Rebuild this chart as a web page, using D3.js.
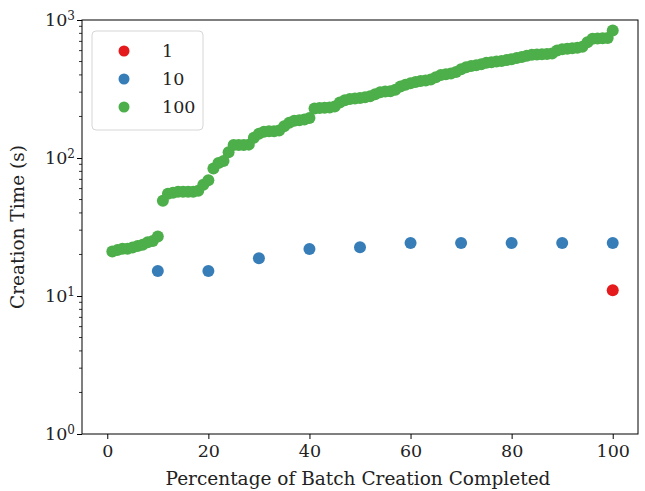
<!DOCTYPE html>
<html>
<head>
<meta charset="utf-8">
<script src="https://cdn.jsdelivr.net/npm/d3@7"></script>
<style>
  body { margin: 0; background: #fff; }
  text { font-family: "DejaVu Serif", serif; fill: #222; }
</style>
</head>
<body>
<script>
// batch sizes shown in the legend
var batchNames = ["1", "10", "100"];
var batchColors = ["#e41a1c", "#377eb8", "#4daf4a"];

// batch of 1
var pct1 = [100];
var time1 = [11];

// batch of 10
var pct10 = [10, 20, 30, 40, 50, 60, 70, 80, 90, 100];
var time10 = [15.2, 15.2, 18.8, 21.9, 22.6, 24.2, 24.2, 24.2, 24.2, 24.2];

// batch of 100, one point per percent
var pct100 = d3.range(1, 101);
var time100 = [
  21, 21.5, 22, 22, 22.5, 23, 23.5, 24.5, 25, 27,
  49, 55, 56, 57, 57, 57, 57, 58, 64, 69,
  84, 92, 95, 110, 124, 124, 124, 125, 140, 150,
  155, 156, 156, 158, 170, 180, 186, 188, 190, 195,
  228, 230, 231, 232, 236, 252, 262, 268, 270, 272,
  275, 280, 290, 300, 303, 305, 312, 330, 340, 348,
  355, 362, 365, 370, 385, 400, 405, 410, 420, 440,
  455, 465, 470, 478, 490, 495, 500, 505, 512, 520,
  530, 540, 550, 560, 562, 565, 568, 572, 600, 615,
  620, 625, 630, 640, 690, 730, 735, 738, 740, 840
];

var xTicks = [0, 20, 40, 60, 80, 100];
var yTicks = [1, 10, 100, 1000];

var W = 645, H = 491;
var margin = {top: 20, right: 7, bottom: 57, left: 82};
var width = W - margin.left - margin.right,
    height = H - margin.top - margin.bottom;

var svg = d3.select("body").append("svg")
    .attr("width", W).attr("height", H);
var g = svg.append("g")
    .attr("transform", "translate(" + margin.left + "," + margin.top + ")");

var x = d3.scaleLinear().domain([-5, 105]).range([0, width]);
var y = d3.scaleLog().domain([1, 1000]).range([height, 0]);

// minor ticks on the log axis
var minor = [];
[1, 10, 100].forEach(function(dec){
  for (var k = 2; k <= 9; k++) minor.push(dec * k);
});
g.append("g").selectAll("line").data(minor).enter().append("line")
  .attr("x1", -3).attr("x2", 0)
  .attr("y1", function(d){ return y(d); }).attr("y2", function(d){ return y(d); })
  .attr("stroke", "#000").attr("stroke-width", 0.8);

var xAxis = g.append("g").attr("transform", "translate(0," + height + ")")
  .call(d3.axisBottom(x).tickValues(xTicks).tickSize(5).tickPadding(6));
var yAxis = g.append("g")
  .call(d3.axisLeft(y).tickValues(yTicks).tickSize(5).tickPadding(6).tickFormat(""));

[xAxis, yAxis].forEach(function(a){
  a.select(".domain").remove();
  a.selectAll("line").attr("stroke", "#000").attr("stroke-width", 1);
  a.selectAll("text").style("font-family", "DejaVu Serif, serif").style("font-size", "17.5px").attr("fill", "#222");
});

// 10^n labels with superscripts
yAxis.selectAll(".tick").each(function(d){
  var t = d3.select(this).select("text");
  t.text(null).attr("x", -7).attr("dy", "0.32em");
  t.append("tspan").text("10");
  t.append("tspan").attr("dy", "-0.5em").style("font-size", "12px")
    .text(Math.round(Math.log10(d)));
});

// frame
g.append("rect").attr("width", width).attr("height", height)
  .attr("fill", "none").attr("stroke", "#000").attr("stroke-width", 1);

var series = [
  {px: pct1, t: time1, c: batchColors[0]},
  {px: pct10, t: time10, c: batchColors[1]},
  {px: pct100, t: time100, c: batchColors[2]}
];
series.forEach(function(s){
  g.append("g").selectAll("circle").data(s.px).enter().append("circle")
    .attr("cx", function(d){ return x(d); })
    .attr("cy", function(d, i){ return y(s.t[i]); })
    .attr("r", 6)
    .attr("fill", s.c);
});

// legend
var leg = g.append("g").attr("transform", "translate(10,11)");
leg.append("rect").attr("width", 111).attr("height", 99).attr("rx", 4)
  .attr("fill", "#fff").attr("stroke", "#d6d6d6").attr("stroke-width", 1);
batchNames.forEach(function(n, i){
  leg.append("circle").attr("cx", 32).attr("cy", 20 + i * 28).attr("r", 5.5)
    .attr("fill", batchColors[i]);
  leg.append("text").attr("x", 70).attr("y", 20 + i * 28).attr("dy", "0.35em")
    .style("font-size", "17.5px").text(n);
});

// axis titles
g.append("text").attr("x", width / 2 - 2).attr("y", height + 51)
  .attr("text-anchor", "middle").style("font-size", "18.5px")
  .text("Percentage of Batch Creation Completed");
g.append("text").attr("transform", "translate(-58," + (height / 2) + ") rotate(-90)")
  .attr("text-anchor", "middle").style("font-size", "18.5px")
  .text("Creation Time (s)");
</script>
</body>
</html>
